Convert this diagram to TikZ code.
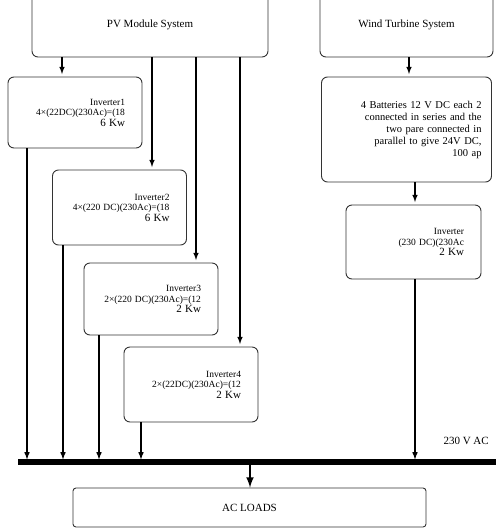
\documentclass[tikz,border=0pt]{standalone}
\usepackage{fontspec}
\setmainfont{Liberation Serif}
\tikzset{
  caja/.style={draw=black!80, line width=0.9pt, rounded corners=6pt, fill=white},
  inversor/.style={caja, align=right, text width=100pt, inner xsep=17pt},
  flecha/.style={-latex, line width=1.5pt, shorten >=2.5pt},
  barra/.style={line width=6pt},
}
\newcommand{\grande}{\fontsize{11}{12}\selectfont}
\begin{document}
\begin{tikzpicture}[x=1pt, y=-1pt, font=\fontsize{9.5}{10.5}\selectfont]
    \clip (0,0) rectangle (496,531);
    \def\xa{27}   % salida inversor 1
    \def\xb{63}   % salida inversor 2
    \def\xc{99}   % salida inversor 3
    \def\xd{141}  % salida inversor 4
    \def\xw{415}  % salida inversor eolico

    % sistemas de generacion
    \node[caja, minimum width=236, minimum height=64] (pv) at (150,25) {\grande PV Module System};
    \node[caja, minimum width=173, minimum height=64] (wind) at (406.5,25) {\grande Wind Turbine System};

    % baterias e inversor eolico
    \node[caja, align=right, text width=150pt, inner xsep=10pt, minimum height=105, font=\fontsize{10.5}{12}\selectfont] (bat) at (406.5,129.5)
        {4 Batteries 12 V DC each 2\\ connected in series and the\\ two pare connected in\\ parallel to give 24V DC,\\ 100 ap};
    \node[inversor, text width=101pt, inner xsep=17pt, minimum height=74] (invw) at (413.5,242)
        {Inverter\\ (230~DC)(230Ac\\ {\grande 2 Kw}};

    % inversores fotovoltaicos
    \node[inversor, minimum height=71] (inv1) at (75,112.5)
        {Inverter1\\ 4×(22DC)(230Ac)=(18\\ {\grande 6 Kw}};
    \node[inversor, minimum height=75] (inv2) at (119.5,207.5)
        {Inverter2\\ 4×(220~DC)(230Ac)=(18\\ {\grande 6 Kw}};
    \node[inversor, minimum height=72] (inv3) at (151,299)
        {Inverter3\\ 2×(220~DC)(230Ac)=(12\\ {\grande 2 Kw}};
    \node[inversor, minimum height=75] (inv4) at (191,384.5)
        {Inverter4\\ 2×(22DC)(230Ac)=(12\\ {\grande 2 Kw}};

    % cargas
    \node[caja, rounded corners=3pt, minimum width=353, minimum height=39] (loads) at (249.5,507.5) {\grande AC LOADS};

    % barra de 230 V AC
    \coordinate (busl) at (18,462);
    \coordinate (busr) at (496,462);
    \node[anchor=west] (vac) at (440,441) {\grande 230 V AC};

    % del sistema FV a los inversores
    \draw[flecha] (pv.south -| 62,0)  -- (inv1.north -| 62,0);
    \draw[flecha] (pv.south -| 152,0) -- (inv2.north -| 152,0);
    \draw[flecha] (pv.south -| 196,0) -- (inv3.north -| 196,0);
    \draw[flecha] (pv.south -| 240,0) -- (inv4.north -| 240,0);

    % rama eolica
    \draw[flecha] (wind.south -| 409,0) -- (bat.north -| 409,0);
    \draw[flecha] (bat.south -| \xw,0)  -- (invw.north -| \xw,0);

    % de los inversores a la barra
    \draw[flecha] (inv1.south -| \xa,0) -- (busl -| \xa,0);
    \draw[flecha] (inv2.south -| \xb,0) -- (busl -| \xb,0);
    \draw[flecha] (inv3.south -| \xc,0) -- (busl -| \xc,0);
    \draw[flecha] (inv4.south -| \xd,0) -- (busl -| \xd,0);
    \draw[flecha] (invw.south -| \xw,0) -- (busl -| \xw,0);

    \draw[barra] (busl) -- (busr);

    % de la barra a las cargas
    \draw[-latex, line width=2.5pt] (busl -| 250,0) -- (loads.north -| 250,0);
\end{tikzpicture}
\end{document}
